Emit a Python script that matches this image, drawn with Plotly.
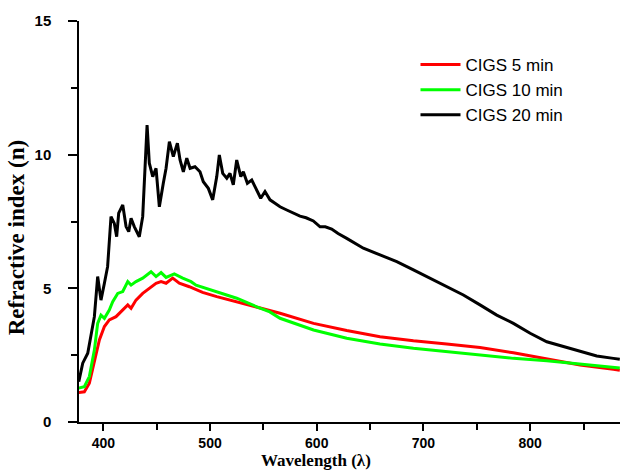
import plotly.graph_objects as go

# ---- data ----
wl_5 = [376, 382.2, 386.9, 391.6, 396.3, 401, 405.6, 411.9, 418.2, 422.9, 426, 430.6, 436.9,
        443.1, 449.4, 454.1, 458.8, 465, 471.2, 480.6, 486.9, 493, 506.3, 525, 543.8, 556,
        565.6, 597, 628.1, 659.3, 690.6, 721.8, 753, 784.3, 815.6, 846.8, 878, 884]
n_5 = [1.10, 1.13, 1.45, 2.32, 3.07, 3.57, 3.82, 3.94, 4.19, 4.38, 4.25, 4.56, 4.81,
       5.0, 5.19, 5.25, 5.19, 5.38, 5.19, 5.06, 4.94, 4.85, 4.69, 4.5, 4.31, 4.19,
       4.07, 3.69, 3.42, 3.19, 3.04, 2.92, 2.79, 2.59, 2.35, 2.13, 1.97, 1.94]

wl_10 = [376, 382.2, 386.9, 391.6, 394.7, 397.8, 401, 405.6, 408.8, 413.5, 418.2, 422.9, 426,
         430.6, 436.9, 444.7, 449.4, 454.1, 458.8, 466.5, 474.4, 482.2, 486.9, 506.3, 525,
         543.8, 556, 565.6, 597, 628.1, 659.3, 690.6, 721.8, 753, 784.3, 815.6, 846.8, 878, 884]
n_10 = [1.26, 1.32, 1.70, 2.69, 3.69, 4.0, 3.88, 4.19, 4.5, 4.81, 4.88, 5.25, 5.12,
        5.25, 5.38, 5.62, 5.44, 5.59, 5.41, 5.54, 5.38, 5.25, 5.12, 4.88, 4.63,
        4.31, 4.12, 3.88, 3.44, 3.13, 2.92, 2.76, 2.63, 2.51, 2.38, 2.29, 2.17, 2.05, 2.02]

wl_20 = [377, 380.7, 385.4, 388.5, 391.6, 394.7, 397.8, 401, 404, 407.2, 410.3, 412.5, 414.4,
         418.2, 421.3, 423.8, 426, 429, 433.7, 436.9, 438.4, 441, 443.1, 446.3, 449.4, 452.5,
         456.2, 458.8, 461.9, 465.6, 469.4, 471.9, 475, 478.2, 481.3, 485.9, 490.6, 493.7,
         498.4, 502.5, 506.3, 508.7, 511.9, 515.7, 518.7, 521.8, 525, 528.8, 531.2, 535,
         539.1, 543.8, 547.5, 551.5, 556.2, 560.9, 565.6, 571.9, 578.1, 584.3, 590, 596.8,
         603.1, 608, 614, 620, 628.1, 643.7, 659.3, 675, 690.6, 706.2, 721.8, 737.4, 753,
         768.7, 784.3, 800, 815.6, 831.1, 846.8, 862.4, 878, 884]
n_20 = [1.51, 2.2, 2.57, 3.19, 3.94, 5.44, 4.56, 5.19, 5.81, 7.68, 7.43, 6.93, 7.81,
        8.12, 7.31, 7.12, 7.62, 7.31, 6.93, 7.68, 9.18, 11.11, 9.68, 9.18, 9.49, 8.05,
        8.93, 9.49, 10.49, 9.93, 10.43, 9.8, 9.36, 9.87, 9.49, 9.55, 9.36, 8.99,
        8.74, 8.31, 9.18, 9.99, 9.3, 9.12, 9.3, 8.87, 9.8, 9.18, 9.36, 8.93,
        9.05, 8.68, 8.37, 8.62, 8.31, 8.18, 8.05, 7.93, 7.81, 7.70, 7.64, 7.52,
        7.30, 7.30, 7.22, 7.05, 6.87, 6.50, 6.25, 6.0, 5.69, 5.38, 5.06, 4.75, 4.38,
        4.0, 3.69, 3.32, 3.0, 2.82, 2.63, 2.47, 2.38, 2.35]

series_names = ["CIGS 5 min", "CIGS 10 min", "CIGS 20 min"]
series_colors = ["#ff0000", "#00ff00", "#000000"]

fig = go.Figure()
for name, color, xs, ys in zip(series_names, series_colors,
                               [wl_5, wl_10, wl_20], [n_5, n_10, n_20]):
    fig.add_trace(go.Scatter(x=xs, y=ys, mode="lines", name=name,
                             line=dict(color=color, width=3)))

tickfont = dict(family="Liberation Sans, Arial", size=14, color="black", weight="bold")
ytickfont = dict(family="Liberation Sans, Arial", size=15, color="black", weight="bold")
titlefont = dict(family="Liberation Serif, Times New Roman", color="black", weight="bold")

fig.update_layout(
    width=620, height=472,
    margin=dict(l=79, r=0, t=21, b=50),
    paper_bgcolor="white", plot_bgcolor="white",
    showlegend=True,
    legend=dict(x=0.622, y=0.935, xanchor="left", yanchor="top",
                font=dict(family="Liberation Sans, Arial", size=17, color="black"),
                bgcolor="rgba(0,0,0,0)", tracegroupgap=0, itemwidth=40),
    xaxis=dict(range=[377.2, 884.2], showgrid=False, zeroline=False,
               showline=True, linecolor="black", linewidth=1.5,
               ticks="outside", ticklen=7, tickwidth=1.5, tickcolor="black",
               tick0=400, dtick=100, tickfont=tickfont, ticklabelstandoff=0,
               minor=dict(ticks="outside", ticklen=6, tickwidth=1.5, tickcolor="black", dtick=50, tick0=400)),
    yaxis=dict(range=[0, 15], showgrid=False, zeroline=False,
               showline=True, linecolor="black", linewidth=1.5,
               ticks="outside", ticklen=9, tickwidth=1.5, tickcolor="black",
               tick0=0, dtick=5, tickfont=ytickfont, ticklabelstandoff=14,
               minor=dict(ticks="outside", ticklen=6, tickwidth=1.5, tickcolor="black", dtick=2.5, tick0=0)),
    annotations=[
        dict(text="Wavelength (λ)", xref="paper", yref="paper", x=0.438, y=-0.1247,
             xanchor="center", yanchor="bottom", showarrow=False,
             font=dict(size=17, **titlefont)),
        dict(text="Refractive index (n)", xref="paper", yref="paper", x=-0.115, y=0.46,
             xanchor="center", yanchor="middle", showarrow=False, textangle=-90,
             font=dict(size=23, **titlefont)),
    ],
)

fig.write_html("out.html")
